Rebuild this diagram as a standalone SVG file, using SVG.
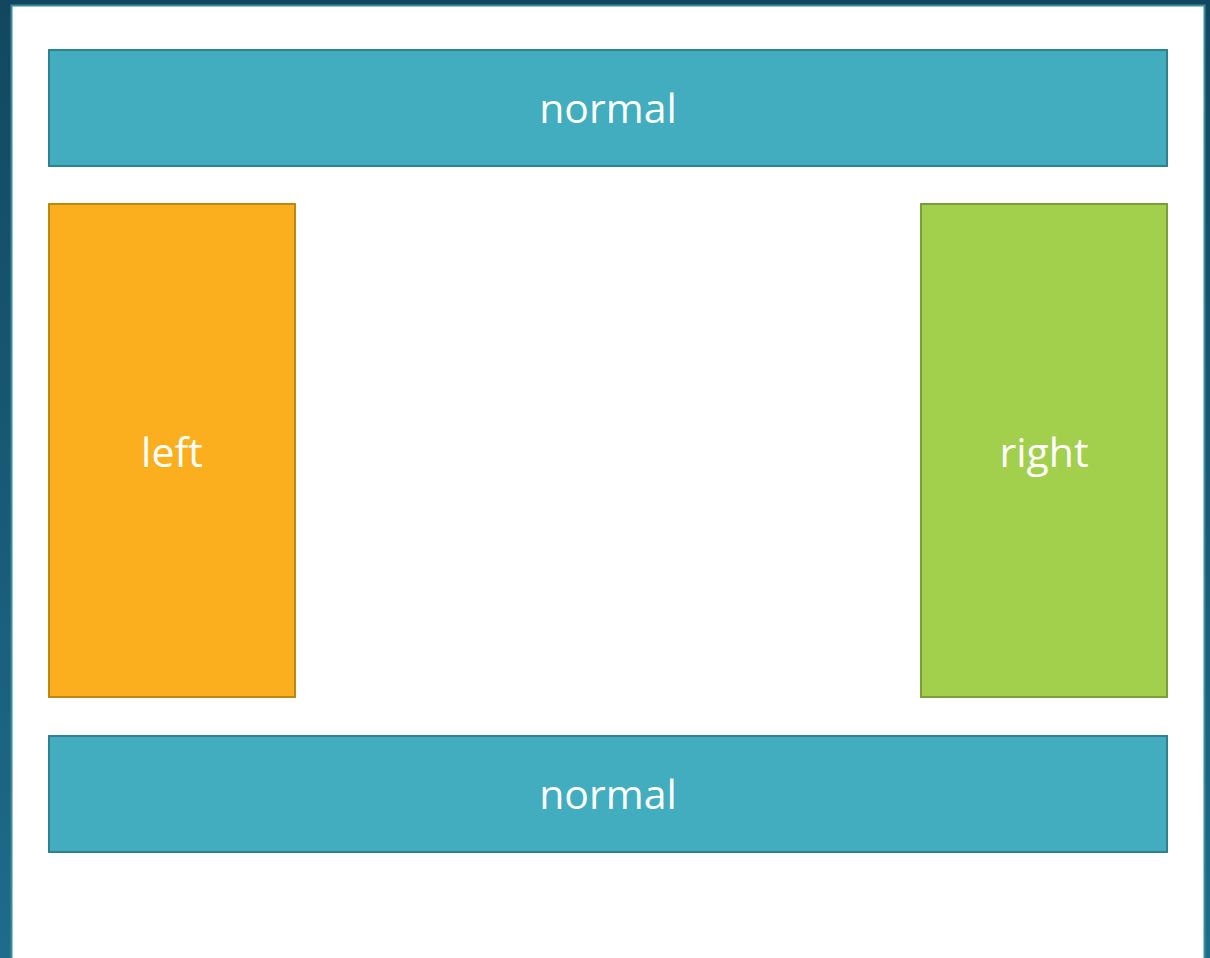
<svg xmlns="http://www.w3.org/2000/svg" width="1210" height="958" viewBox="0 0 1210 958">
<defs>
<linearGradient id="bg" x1="0" y1="0" x2="0" y2="1">
<stop offset="0" stop-color="#134760"/>
<stop offset="1" stop-color="#1e6c8a"/>
</linearGradient>
</defs>
<style>
.lbl{font-family:"Open Sans","Noto Sans",sans-serif;font-size:41px;fill:#ffffff;text-anchor:middle}
.blue{fill:#41adbe;stroke:#2e8290;stroke-width:2}
.orange{fill:#fbaf1f;stroke:#bd880f;stroke-width:2}
.green{fill:#a2d04c;stroke:#7b9f38;stroke-width:2}
</style>
<rect x="0" y="0" width="1210" height="958" fill="url(#bg)"/>
<rect x="11.5" y="5.5" width="1193" height="960" fill="#ffffff" stroke="#3a8c9a" stroke-width="2"/>
<g id="normal-top">
<rect class="blue" x="49" y="50" width="1118" height="116"/>
<text class="lbl" x="608" y="123">normal</text>
</g>
<g id="left">
<rect class="orange" x="49" y="204" width="246" height="493"/>
<text class="lbl" x="172" y="467">left</text>
</g>
<g id="right">
<rect class="green" x="921" y="204" width="246" height="493"/>
<text class="lbl" x="1044" y="467">right</text>
</g>
<g id="normal-bottom">
<rect class="blue" x="49" y="736" width="1118" height="116"/>
<text class="lbl" x="608" y="809">normal</text>
</g>
<g id="connectors"/>
</svg>
